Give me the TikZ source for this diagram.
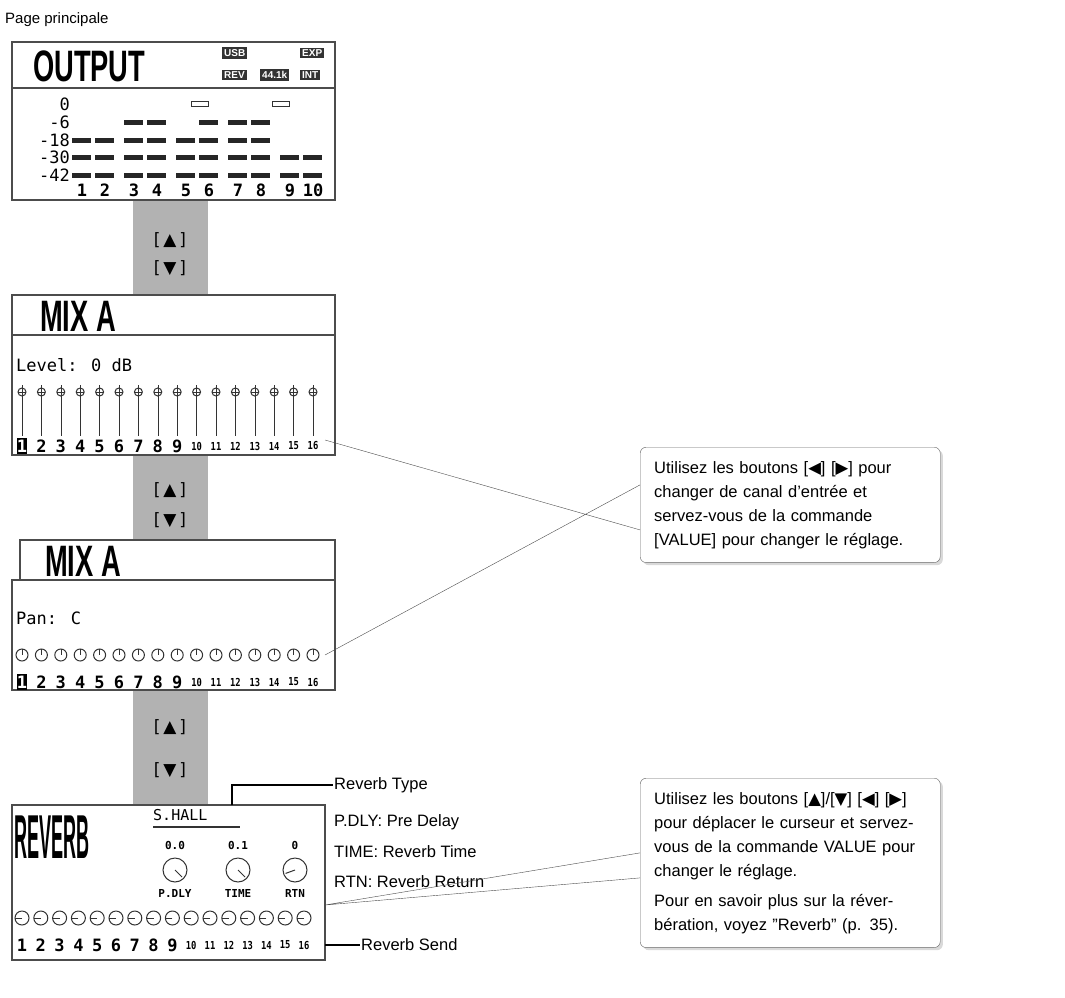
\documentclass[tikz,border=0pt]{standalone}
\usepackage{fontspec}
\setmainfont{Liberation Sans}
\newfontfamily\lcdfont{DejaVu Sans Mono}
\newfontfamily\symfont{DejaVu Sans}
\usetikzlibrary{shadows}
\tikzset{
  lcdbox/.style={draw=black!70,line width=1.2pt},
  bigtitle/.style={anchor=west,font=\bfseries\fontsize{44}{44}\selectfont,xscale=.62,inner sep=0pt},
  lcdtext/.style={font=\lcdfont\fontsize{17}{17}\selectfont,inner sep=0pt},
  arrowkey/.style={font=\symfont\fontsize{17}{17}\selectfont,inner sep=0pt},
  callout/.style={draw=black!60,rounded corners=6pt,fill=white,drop shadow={opacity=.3},align=left,text width=272pt,font=\fontsize{16.5}{24}\selectfont,anchor=north west,inner sep=14pt},
  label/.style={anchor=west,font=\fontsize{16.5}{16.5}\selectfont,inner sep=1pt},
  bar/.style={fill=black!85},
  chnum/.style={font=\lcdfont\bfseries\fontsize{17}{17}\selectfont,inner sep=0pt},
  chsmall/.style={font=\lcdfont\bfseries\fontsize{11}{11}\selectfont,xscale=.8,inner sep=0pt}
}
\newcommand{\keypair}[3]{% x, y top, y bottom
  \node[arrowkey] at (#1,#2) {[\,▲\,]};
  \node[arrowkey] at (#1,#3) {[\,▼\,]};}
\newcommand{\chrow}[3]{% y, step, first channel
  \foreach \i in {#3,...,16}{
    \pgfmathsetmacro{\xx}{22+(\i-1)*#2}
    \ifnum\i>9 \node[chsmall] at (\xx,#1) {\i};\else\node[chnum] at (\xx,#1) {\i};\fi
  }}
\begin{document}
\begin{tikzpicture}[x=1pt,y=-1pt]
\useasboundingbox (0,0) rectangle (1065,998);
\node[label,font=\fontsize{15}{15}\selectfont] (page) at (4,20) {Page principale};
% gray links
\fill[black!30] (133,200) rectangle (208,295);
\fill[black!30] (133,455) rectangle (208,540);
\fill[black!30] (133,690) rectangle (208,805);
\keypair{170}{240}{268}
\keypair{170}{490}{520}
\keypair{170}{727}{770}
% OUTPUT screen
\draw[lcdbox] (12,42) rectangle (335,88);
\draw[lcdbox] (12,88) rectangle (335,200);
\node[bigtitle] (outtitle) at (33,66) {OUTPUT};
\foreach \x/\y/\t in {222/53/USB,300/53/EXP,222/75/REV,260/75/44.1k,300/75/INT}
  \node[fill=black!80,text=white,font=\bfseries\fontsize{10}{10}\selectfont,inner sep=2pt,anchor=west] at (\x,\y) {\t};
\foreach \l/\y in {0/104,-6/122,-18/140,-30/157,-42/175}
  \node[lcdtext,anchor=east] at (70,\y) {\l};
\foreach \i/\n in {1/3,2/3,3/4,4/4,5/3,6/4,7/4,8/4,9/2,10/2}{
  \pgfmathsetmacro{\xx}{72+(\i-1)*23+int((\i-1)/2)*6}
  \foreach \k in {1,...,\n}
    \fill[bar] (\xx,{172.5-(\k-1)*17.5}) rectangle ++(19,5);
  \node[chnum] at ({\xx+10},190) {\i};
}
\draw[black!80,line width=1pt] (191,101.5) rectangle ++(17,5);
\draw[black!80,line width=1pt] (272,101.5) rectangle ++(17,5);
% MIX A (level)
\draw[lcdbox] (12,295) rectangle (335,335);
\draw[lcdbox] (12,335) rectangle (335,455);
\node[bigtitle] (mixa) at (40,316) {MIX A};
\node[lcdtext,anchor=west] (level) at (16,365) {Level: 0 dB};
\foreach \i in {1,...,16}{
  \pgfmathsetmacro{\xx}{22+(\i-1)*19.4}
  \draw[black!80] (\xx,385) -- (\xx,436);
  \draw[black!80,line width=1pt] (\xx,392) circle (4);
  \draw[black!80,line width=1pt] ({\xx-4},392) -- ({\xx+4},392);
}
\chrow{446}{19.4}{2}
\node[chnum,fill=black,text=white,minimum height=16pt] (sel1) at (22,446) {1};
% MIX A (pan)
\draw[lcdbox] (20,540) rectangle (335,580);
\draw[lcdbox] (12,580) rectangle (335,690);
\node[bigtitle] (mixb) at (45,561) {MIX A};
\node[lcdtext,anchor=west] (pan) at (16,618) {Pan: C};
\foreach \i in {1,...,16}{
  \pgfmathsetmacro{\xx}{22+(\i-1)*19.4}
  \draw[black!80,line width=1pt] (\xx,655) circle (6);
  \draw[black!80] (\xx,649) -- (\xx,655);
}
\chrow{682}{19.4}{2}
\node[chnum,fill=black,text=white,minimum height=16pt] (sel2) at (22,682) {1};
% REVERB
\draw[lcdbox] (12,805) rectangle (325,960);
\node[bigtitle,font=\bfseries\fontsize{62}{62}\selectfont,xscale=.47] (rev) at (14,837) {REVERB};
\node[lcdtext,anchor=west,font=\lcdfont\fontsize{15}{15}\selectfont] (shall) at (153,815) {S.HALL};
\draw[black!80,line width=1.2pt] (153,827) -- (240,827);
\foreach \x/\v/\n/\a in {175/0.0/P.DLY/225,238/0.1/TIME/225,295/0/RTN/-20}{
  \node[lcdtext,font=\lcdfont\bfseries\fontsize{11}{11}\selectfont] at (\x,845) {\v};
  \draw[black!80,line width=1pt] (\x,870) circle (12);
  \draw[black!80,line width=1pt] (\x,870) -- ++(\a:-10);
  \node[lcdtext,font=\lcdfont\bfseries\fontsize{11}{11}\selectfont] at (\x,893) {\n};
}
\foreach \i in {1,...,16}{
  \pgfmathsetmacro{\xx}{22+(\i-1)*18.8}
  \draw[black!80,line width=1pt] (\xx,918) circle (7);
  \draw[black!80] (\xx,918) -- ({\xx-7},918);
}
\chrow{945}{18.8}{1}
% labels
\coordinate (typeA) at (232,805);
\node[label] (rtype) at (333,785) {Reverb Type};
\draw[line width=1.2pt] (typeA) |- (rtype.west);
\node[label] (pdly) at (333,822) {P.DLY: Pre Delay};
\node[label] (rtime) at (333,852) {TIME: Reverb Time};
\node[label] (rrtn) at (333,882) {RTN: Reverb Return};
\coordinate (sendA) at (325,945);
\node[label] (rsend) at (360,945) {Reverb Send};
\draw[line width=1.2pt] (sendA) -- (rsend.west);
% callouts
\node[callout] (call1) at (640,447) {Utilisez les boutons [{\symfont◀}] [{\symfont▶}] pour changer de canal d’entrée et servez-vous de la commande [VALUE] pour changer le réglage.};
\node[callout] (call2) at (640,778) {Utilisez les boutons [{\symfont▲}]/[{\symfont▼}] [{\symfont◀}] [{\symfont▶}] pour déplacer le curseur et servez-vous de la commande VALUE pour changer le réglage.\\[6pt]Pour en savoir plus sur la réverbération, voyez ”Reverb” (p. 35).};
\coordinate (p1) at (325,440);
\coordinate (p2) at (325,655);
\coordinate (p3) at (325,905);
\draw[black!70] (p1) -- ([yshift=-25pt]call1.west) (p2) -- ([yshift=20pt]call1.west);
\draw[black!70] (p3) -- ([yshift=-15pt]call2.west) (p3) -- ([yshift=10pt]call2.west);
\end{tikzpicture}
\end{document}
